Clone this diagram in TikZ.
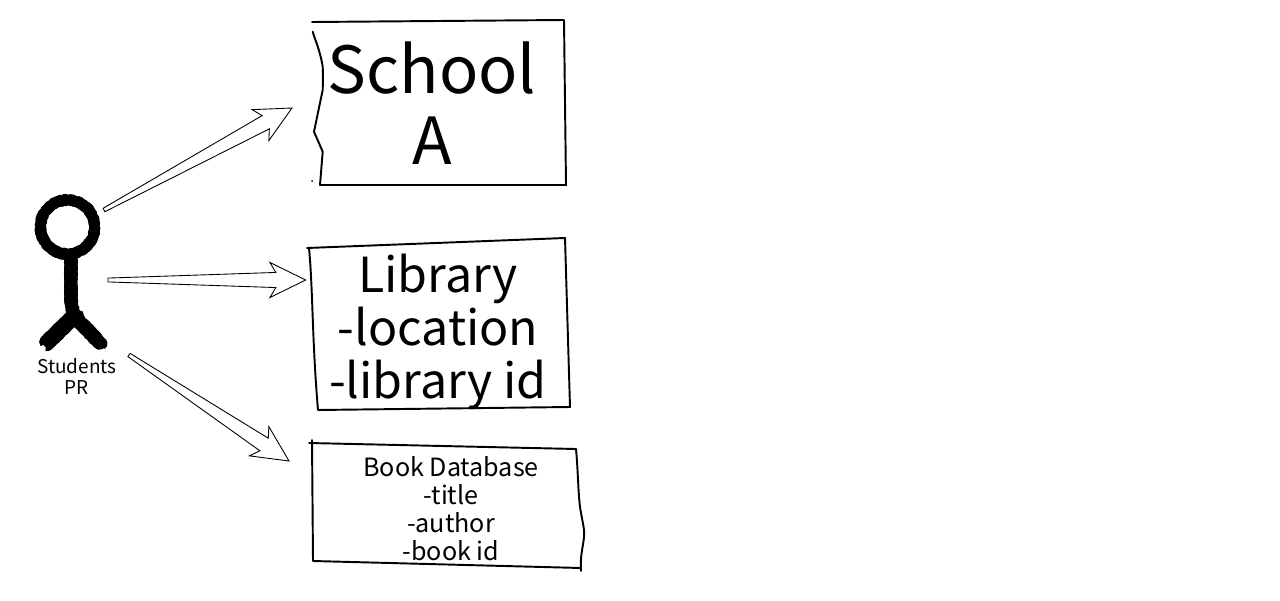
\documentclass[tikz,border=0pt]{standalone}
\usepackage{fontspec}
\setmainfont{Noto Sans CJK SC}
\usetikzlibrary{calc, decorations.pathmorphing}
\tikzset{
    sketchline/.style={line width=1.1pt, line join=round, line cap=round},
    arrowline/.style={line width=0.5pt, line join=miter, fill=white},
    inkline/.style={line width=#1, line join=round, decorate, decoration={random steps, segment length=0.7pt, amplitude=0.8pt}},
    boxlabel/.style={align=center, inner sep=0pt}
}
% hollow tapered arrow between two named coordinates
\newcommand{\handarrow}[2]{
    \coordinate (neck) at ($(#2)!17pt!(#1)$);
    \coordinate (barb) at ($(#2)!20.4pt!(#1)$);
    \draw[arrowline] ($(#1)!1.1pt!-90:(#2)$) -- ($(neck)!4.3pt!-90:(#2)$) -- ($(barb)!10pt!-90:(#2)$) -- (#2)
        -- ($(barb)!10pt!90:(#2)$) -- ($(neck)!4.3pt!90:(#2)$) -- ($(#1)!1.1pt!90:(#2)$) -- cycle;
}
\begin{document}
\begin{tikzpicture}[x=0.02cm, y=-0.02cm]
    \useasboundingbox (0,0) rectangle (1280,601);
    \pgfmathsetseed{7}

    % Stick figure
    \foreach \i in {1,2,3,4} {
        \draw[inkline=5.4pt] (67.5,227) circle (27);
        \draw[inkline=6.5pt] (71,256) -- (71,300) -- (74,318);
        \draw[inkline=8pt] (76,314) -- (46,344);
        \draw[inkline=7pt] (72,314) -- (101,344);
    }
    \node[boxlabel, font=\fontsize{10.8}{12}\selectfont] (students) at (77,376) {Students\\PR};

    % School box
    \draw[sketchline] (312,22) -- (564,20) -- (566,185) -- (320,185) -- (322.7,151.7) -- (314,131.7)
        -- (322.7,90) .. controls (323,78) and (323,72) .. (322.7,66.7) .. controls (320,50) and (315,40) .. (312.7,31.7);
    \fill (312,181) circle (1);
    \node[boxlabel, font=\fontsize{37}{40.5}\selectfont] (school) at (432,103) {School\\A};

    % Library box
    \draw[sketchline] (307,248) -- (565,238) -- (570,407) -- (318,410) .. controls (312,340) and (313,290) .. (309,248);
    \node[boxlabel, font=\fontsize{27.5}{30.3}\selectfont] (library) at (438,332) {Library\\-location\\-library id};

    % Book database box
    \draw[sketchline] (309,443) -- (576,449) .. controls (578,470) and (578,490) .. (580,507)
        .. controls (582,520) and (585,530) .. (584,537) .. controls (583,548) and (580,555) .. (581,571);
    \draw[sketchline] (581,568) -- (313,561) -- (312,440);
    \node[boxlabel, font=\fontsize{14.3}{15.9}\selectfont] (bookdb) at (451,509) {Book Database\\-title\\-author\\-book id};

    % Arrows
    \coordinate (tailA) at (104,210);
    \coordinate (tipA) at (292,108);
    \coordinate (tailB) at (108,280);
    \coordinate (tipB) at (305.7,280);
    \coordinate (tailC) at (129,355);
    \coordinate (tipC) at (289,461);
    \handarrow{tailA}{tipA}
    \handarrow{tailB}{tipB}
    \handarrow{tailC}{tipC}
\end{tikzpicture}
\end{document}
